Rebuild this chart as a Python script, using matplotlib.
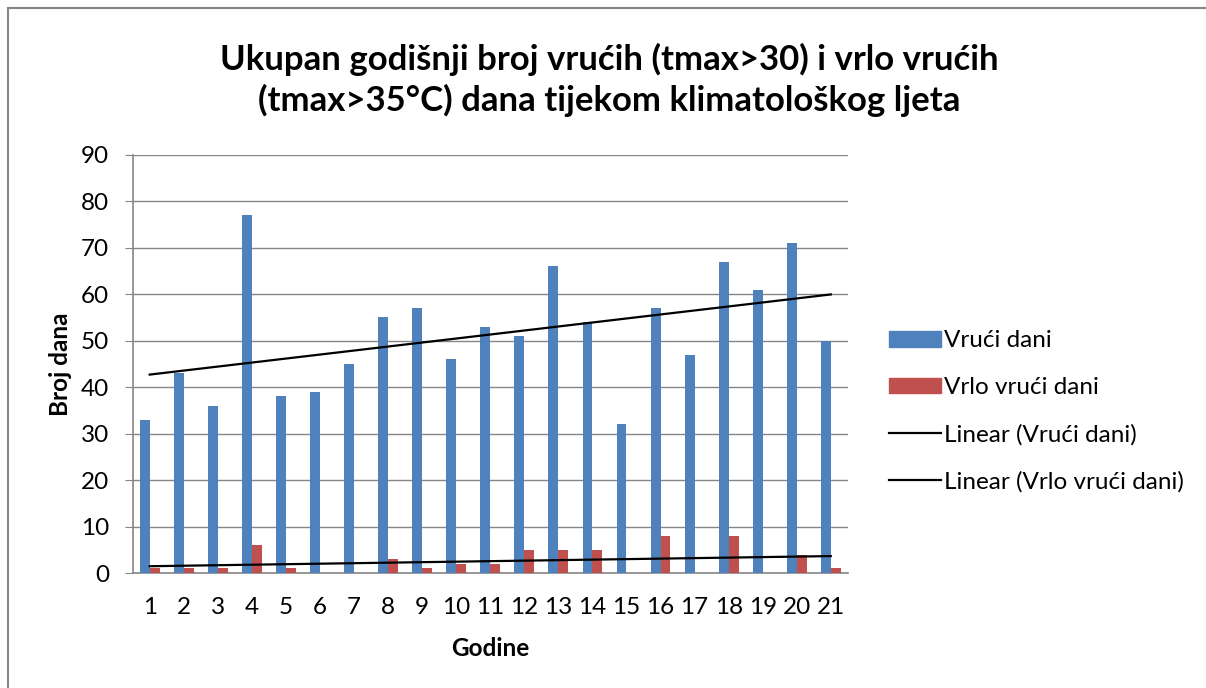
import numpy as np
import matplotlib.pyplot as plt
from matplotlib.patches import Rectangle, Patch
from matplotlib.lines import Line2D

plt.rcParams["font.family"] = ["Lato", "DejaVu Sans"]

# data
godine = list(range(1, 22))
vruci_dani = [33, 43, 36, 77, 38, 39, 45, 55, 57, 46, 53, 51, 66, 54, 32, 57, 47, 67, 61, 71, 50]
vrlo_vruci_dani = [1, 1, 1, 6, 1, 0, 0, 3, 1, 2, 2, 5, 5, 5, 0, 8, 0, 8, 0, 4, 1]

blue = "#4f81bd"
red = "#c0504d"

fig = plt.figure(figsize=(12.06, 6.88), dpi=100)
ax = fig.add_axes([0.110, 0.167, 0.593, 0.608])

x = np.array(godine)
w = 0.29
ax.bar(x - w / 2, vruci_dani, w, color=blue, zorder=3)
ax.bar(x + w / 2, vrlo_vruci_dani, w, color=red, zorder=3)

# linear trend lines (like Excel)
k1, n1 = np.polyfit(x, vruci_dani, 1)
k2, n2 = np.polyfit(x, vrlo_vruci_dani, 1)
ax.plot(x, k1 * x + n1, color="black", lw=1.6, zorder=4)
ax.plot(x, k2 * x + n2, color="black", lw=1.6, zorder=4)

ax.set_xlim(0.5, 21.5)
ax.set_ylim(0, 90)
ax.set_yticks(range(0, 91, 10))
ax.set_xticks(x)
ax.set_xticklabels([str(g) for g in godine])
ax.tick_params(axis="x", length=0, labelsize=17.5, pad=17)
ax.tick_params(axis="y", length=6, color="#868686", labelsize=17.5, pad=11)
ax.grid(axis="y", color="#868686", lw=1, zorder=0)

for s in ["top", "right"]:
    ax.spines[s].set_visible(False)
for s in ["left", "bottom"]:
    ax.spines[s].set_color("#868686")
    ax.spines[s].set_linewidth(1.2)

ax.set_xlabel("Godine", fontsize=17.5, fontweight="bold", labelpad=14)
ax.set_ylabel("Broj dana", fontsize=17.5, fontweight="bold", labelpad=6)

fig.text(0.505, 0.884, "Ukupan godišnji broj vrućih (tmax>30) i vrlo vrućih\n(tmax>35°C) dana tijekom klimatološkog ljeta",
         ha="center", va="center", fontsize=25, fontweight="bold", linespacing=1.3)

handles = [Patch(color=blue), Patch(color=red),
           Line2D([], [], color="black", lw=1.6), Line2D([], [], color="black", lw=1.6)]
labels = ["Vrući dani", "Vrlo vrući dani", "Linear (Vrući dani)", "Linear (Vrlo vrući dani)"]
fig.legend(handles, labels, loc="upper left", bbox_to_anchor=(0.737, 0.52),
           frameon=False, fontsize=17.5, handlelength=2.14, handleheight=0.62,
           labelspacing=1.06, handletextpad=0.12, borderaxespad=0, borderpad=0)

fig.patches.append(Rectangle((0.007, -0.01), 1.0, 0.998, transform=fig.transFigure,
                             fill=False, edgecolor="#868686", lw=1.5))

fig.savefig("out.png", dpi=100)
